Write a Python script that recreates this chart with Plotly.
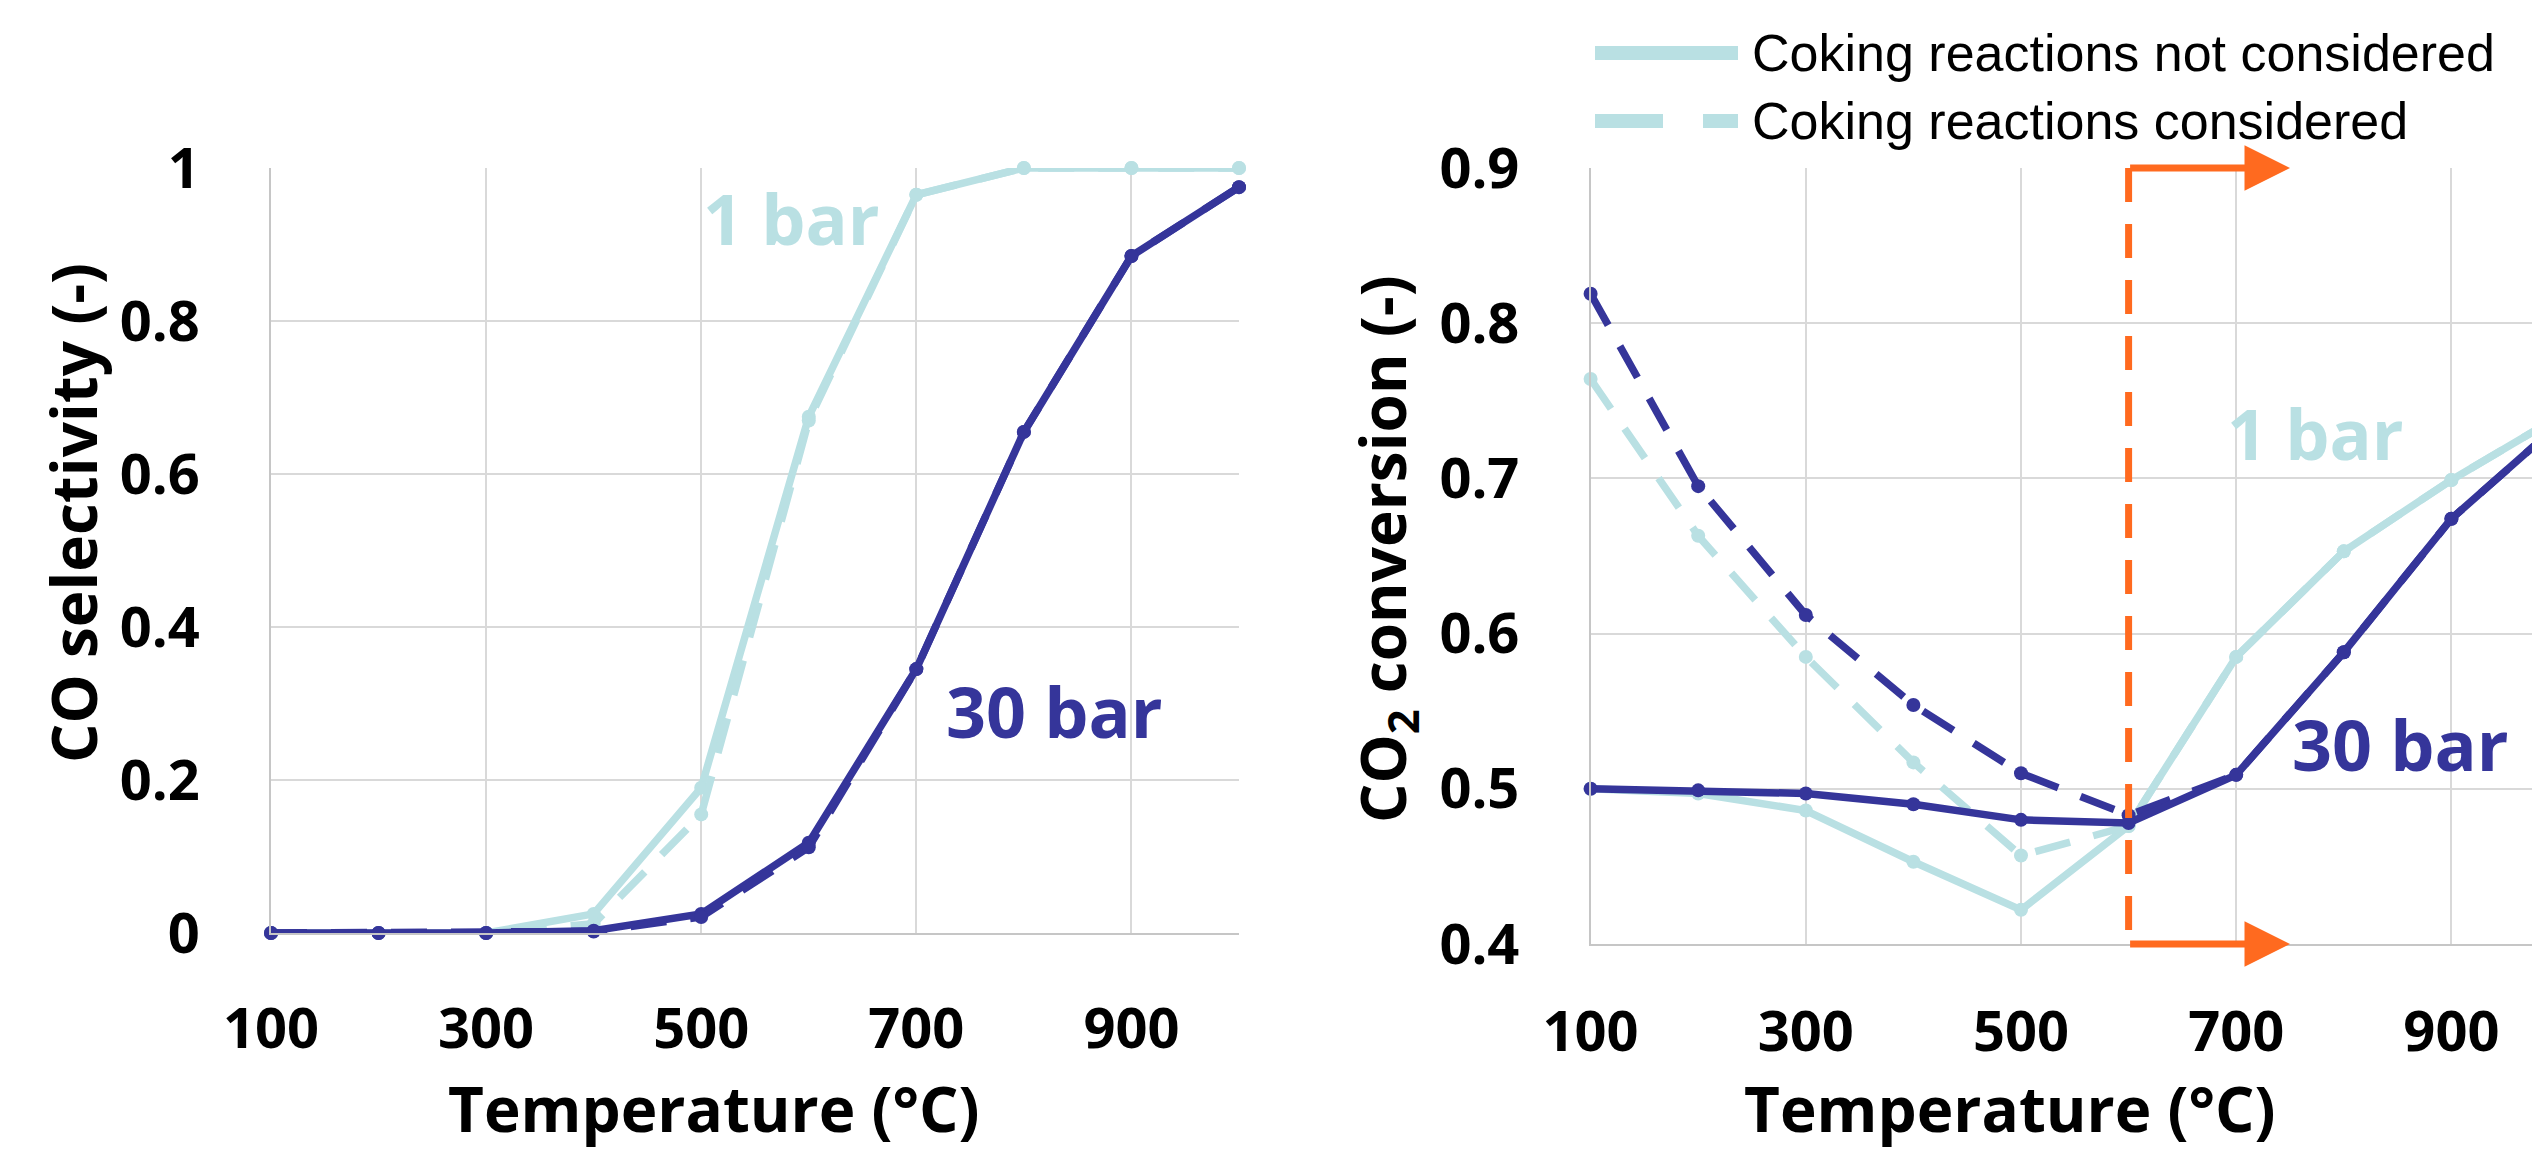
import plotly.graph_objects as go

# ---------------- data ----------------
temps = [100, 200, 300, 400, 500, 600, 700, 800, 900, 1000]

# CO selectivity (-)
sel_1bar_nocoke = [0.0, 0.0, 0.0, 0.025, 0.19, 0.675, 0.965, 1.0, 1.0, 1.0]
sel_1bar_coke = [0.0, 0.0, 0.0, 0.012, 0.155, 0.67, 0.965, 1.0, 1.0, 1.0]
sel_30bar_nocoke = [0.0, 0.0, 0.0, 0.003, 0.025, 0.118, 0.345, 0.655, 0.885, 0.975]
sel_30bar_coke = [0.0, 0.0, 0.0, 0.002, 0.021, 0.112, 0.345, 0.655, 0.885, 0.975]

# CO2 conversion (-)
conv_1bar_nocoke = [0.500, 0.497, 0.486, 0.453, 0.422, 0.476, 0.585, 0.653, 0.699, 0.740]
conv_1bar_coke = [0.764, 0.663, 0.585, 0.517, 0.457, 0.476, 0.585, 0.653, 0.699, 0.740]
conv_30bar_nocoke = [0.500, 0.499, 0.497, 0.490, 0.480, 0.478, 0.509, 0.588, 0.674, 0.735]
conv_30bar_coke = [0.819, 0.695, 0.612, 0.554, 0.510, 0.483, 0.509, 0.588, 0.674, 0.735]

x_ticks = [100, 300, 500, 700, 900]
coke_threshold = 600
arrow_end = 750

LIGHT = "#B9E0E3"
NAVY = "#35359A"
ORANGE = "#FF6A1F"
GRID = "#D9D9D9"
AXLINE = "#C6C6C6"

W, H = 2532, 1152


def px(x):
    return x / W


def py(y):
    return 1 - y / H


fig = go.Figure()


def add_series(x, y, color, dash, xa, ya):
    fig.add_trace(go.Scatter(
        x=x, y=y, mode="lines+markers",
        line=dict(color=color, width=7.5, dash=dash),
        marker=dict(color=color, size=14),
        xaxis=xa, yaxis=ya, showlegend=False, cliponaxis=False,
    ))


DASH = "36px,24px"
add_series(temps, sel_1bar_nocoke, LIGHT, "solid", "x", "y")
add_series(temps, sel_1bar_coke, LIGHT, DASH, "x", "y")
add_series(temps, sel_30bar_nocoke, NAVY, "solid", "x", "y")
add_series(temps, sel_30bar_coke, NAVY, DASH, "x", "y")

add_series(temps, conv_1bar_nocoke, LIGHT, "solid", "x2", "y2")
add_series(temps, conv_1bar_coke, LIGHT, DASH, "x2", "y2")
add_series(temps, conv_30bar_coke, NAVY, DASH, "x2", "y2")
add_series(temps, conv_30bar_nocoke, NAVY, "solid", "x2", "y2")

tickfont = dict(family="Open Sans", size=56, color="black", weight="bold")

x_common = dict(tickvals=x_ticks, showgrid=True, gridcolor=GRID, gridwidth=2,
                zeroline=False, showline=True, linecolor=AXLINE, linewidth=2,
                ticks="", tickfont=tickfont, automargin=False)
y_common = dict(showgrid=True, gridcolor=GRID, gridwidth=2, zeroline=False,
                showline=True, linecolor=AXLINE, linewidth=2, ticks="",
                tickfont=tickfont, ticklabelstandoff=58, automargin=False)

# right panel x range so that the plot is cut by the picture edge like the original
px_per_100 = 107.6
right_x0 = 1590.6
right_xmax = 100 + (W - right_x0) / px_per_100 * 100

fig.update_layout(
    width=W, height=H,
    autosize=False,
    margin=dict(l=0, r=0, t=0, b=0, pad=0, autoexpand=False),
    paper_bgcolor="white", plot_bgcolor="white",
    xaxis=dict(domain=[px(271), px(1239)], range=[100, 1000], anchor="y",
               ticklabelstandoff=46, **x_common),
    yaxis=dict(domain=[py(933), py(168)], range=[0, 1], tickvals=[0, 0.2, 0.4, 0.6, 0.8, 1],
               ticktext=["0", "0.2", "0.4", "0.6", "0.8", "1"], anchor="x", **y_common),
    xaxis2=dict(domain=[px(right_x0), 1], range=[100, right_xmax], anchor="y2",
                ticklabelstandoff=38, **x_common),
    yaxis2=dict(domain=[py(944), py(168)], range=[0.4, 0.9], tickvals=[0.4, 0.5, 0.6, 0.7, 0.8, 0.9],
                ticktext=["0.4", "0.5", "0.6", "0.7", "0.8", "0.9"], anchor="x2", **y_common),
    showlegend=False,
)

title_font = dict(family="Open Sans", size=62, color="black", weight="bold")
label_font = dict(family="Open Sans", size=70, weight="bold")

annotations = [
    dict(text="CO selectivity (-)", x=px(73), y=py(513), xref="paper", yref="paper",
         textangle=-90, showarrow=False, font=title_font, xanchor="center", yanchor="middle"),
    dict(text="CO<sub>2</sub> conversion (-)", x=px(1386), y=py(549), xref="paper", yref="paper",
         textangle=-90, showarrow=False, font=title_font, xanchor="center", yanchor="middle"),
    dict(text="Temperature (°C)", x=px(714), y=0, xref="paper", yref="paper",
         showarrow=False, font=title_font, xanchor="center", yanchor="bottom"),
    dict(text="Temperature (°C)", x=px(2010), y=0, xref="paper", yref="paper",
         showarrow=False, font=title_font, xanchor="center", yanchor="bottom"),
    # pressure labels
    dict(text="1 bar", x=500, y=0.935, xref="x", yref="y", xanchor="left", yanchor="middle",
         showarrow=False, font=dict(label_font, color=LIGHT)),
    dict(text="30 bar", x=726, y=0.29, xref="x", yref="y", xanchor="left", yanchor="middle",
         showarrow=False, font=dict(label_font, color=NAVY)),
    dict(text="1 bar", x=690, y=0.729, xref="x2", yref="y2", xanchor="left", yanchor="middle",
         showarrow=False, font=dict(label_font, color=LIGHT)),
    dict(text="30 bar", x=750, y=0.529, xref="x2", yref="y2", xanchor="left", yanchor="middle",
         showarrow=False, font=dict(label_font, color=NAVY)),
    # legend texts
    dict(text="Coking reactions not considered", x=px(1750), y=py(53), xref="paper", yref="paper",
         xanchor="left", yanchor="middle", showarrow=False,
         font=dict(family="Liberation Sans", size=52, color="black")),
    dict(text="Coking reactions considered", x=px(1750), y=py(121), xref="paper", yref="paper",
         xanchor="left", yanchor="middle", showarrow=False,
         font=dict(family="Liberation Sans", size=52, color="black")),
]

# orange arrows from the coke threshold
for yv in (0.9, 0.4):
    annotations.append(dict(
        x=arrow_end, y=yv, ax=coke_threshold, ay=yv, xref="x2", yref="y2", axref="x2", ayref="y2",
        text="", showarrow=True, arrowhead=2, arrowsize=1.3, arrowwidth=7, arrowcolor=ORANGE,
        standoff=0, startstandoff=0,
    ))

fig.update_layout(annotations=annotations)

shapes = [
    dict(type="line", xref="x2", yref="y2", x0=coke_threshold, x1=coke_threshold, y0=0.9, y1=0.4,
         line=dict(color=ORANGE, width=7, dash="34px,22px")),
    # legend swatches
    dict(type="line", xref="paper", yref="paper", x0=px(1595), x1=px(1738), y0=py(53), y1=py(53),
         line=dict(color=LIGHT, width=14)),
    dict(type="line", xref="paper", yref="paper", x0=px(1595), x1=px(1738), y0=py(121), y1=py(121),
         line=dict(color=LIGHT, width=14, dash="68px,40px")),
]
fig.update_layout(shapes=shapes)

fig.write_html("out.html")
